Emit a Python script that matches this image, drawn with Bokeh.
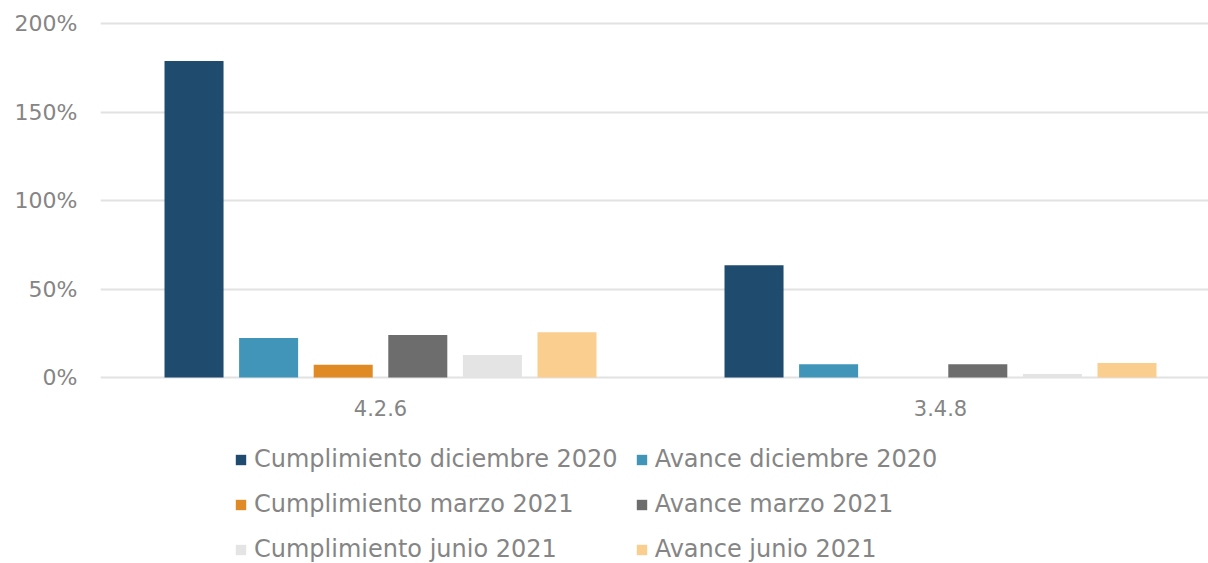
from bokeh.plotting import figure
from bokeh.models import ColumnDataSource, Range1d, FixedTicker, Legend, LegendItem
from bokeh.embed import file_html
from bokeh.resources import INLINE

categories = ["4.2.6", "3.4.8"]
series_names = [
    "Cumplimiento diciembre 2020",
    "Avance diciembre 2020",
    "Cumplimiento marzo 2021",
    "Avance marzo 2021",
    "Cumplimiento junio 2021",
    "Avance junio 2021",
]
cumpl_dic_2020 = [178.8, 63.4]
avance_dic_2020 = [22.3, 7.5]
cumpl_mar_2021 = [7.2, 0.0]
avance_mar_2021 = [24.0, 7.5]
cumpl_jun_2021 = [12.7, 2.0]
avance_jun_2021 = [25.5, 8.2]
series_values = [cumpl_dic_2020, avance_dic_2020, cumpl_mar_2021,
                 avance_mar_2021, cumpl_jun_2021, avance_jun_2021]
colors = ["#1F4B6E", "#4195B9", "#E08A25", "#6D6D6D", "#E4E4E4", "#FACE8F"]
yticks = [0, 50, 100, 150, 200]

FONT = "DejaVu Sans"
TXT = "#858585"

# frame spans from y=21 to the bottom of the window; 354 px for 0..200 %
PX_PER_UNIT = 354 / 200
FRAME_H = 542
Y_MAX = 200 + 2 / PX_PER_UNIT
Y_MIN = Y_MAX - FRAME_H / PX_PER_UNIT

p = figure(frame_width=1108, frame_height=FRAME_H, output_backend="svg",
           toolbar_location=None,
           x_range=Range1d(0, 1108 / 560), y_range=Range1d(Y_MIN, Y_MAX),
           min_border_left=100, min_border_right=0, min_border_top=21,
           min_border_bottom=0)
p.outline_line_color = None
p.background_fill_color = "white"

pitch = 0.1332
bw = 0.1054
renderers = []
for i, (name, vals, col) in enumerate(zip(series_names, series_values, colors)):
    xs = [g + 0.5 + (i - 2.5) * pitch for g in range(len(categories))]
    src = ColumnDataSource(dict(x=xs, top=vals))
    r = p.vbar(x="x", top="top", bottom=0, width=bw, source=src,
               fill_color=col, line_color=None)
    renderers.append((name, r))

# axes
p.xaxis.fixed_location = 0
p.xaxis.ticker = FixedTicker(ticks=[g + 0.5 for g in range(len(categories))])
p.xaxis.major_label_overrides = {g + 0.5: c for g, c in enumerate(categories)}
p.xaxis.axis_line_color = None
p.xaxis.major_tick_line_color = None
p.xaxis.minor_tick_line_color = None
p.xaxis.major_tick_out = 0
p.xaxis.major_tick_in = 0
p.xaxis.major_label_standoff = 22
p.xaxis.major_label_text_font = FONT
p.xaxis.major_label_text_font_size = "21px"
p.xaxis.major_label_text_color = TXT

p.yaxis.ticker = FixedTicker(ticks=yticks)
p.yaxis.major_label_overrides = {t: f"{t}%" for t in yticks}
p.yaxis.axis_line_color = None
p.yaxis.major_tick_line_color = None
p.yaxis.minor_tick_line_color = None
p.yaxis.major_tick_out = 0
p.yaxis.major_tick_in = 0
p.yaxis.major_label_standoff = 23
p.yaxis.major_label_text_font = FONT
p.yaxis.major_label_text_font_size = "22px"
p.yaxis.major_label_text_color = TXT

p.xgrid.grid_line_color = None
p.ygrid.grid_line_color = "#E2E2E2"
p.ygrid.grid_line_width = 2

legend = Legend(items=[LegendItem(label=n, renderers=[r]) for n, r in renderers],
                orientation="horizontal", ncols=2, location=(134, 0),
                label_text_font=FONT, label_text_font_size="24px",
                label_text_color=TXT, glyph_width=13, glyph_height=13,
                label_standoff=7, spacing=17, label_height=28,
                border_line_color=None, background_fill_alpha=0,
                padding=0, margin=0)
p.add_layout(legend, "center")

open("out.html", "w").write(file_html(p, INLINE))
